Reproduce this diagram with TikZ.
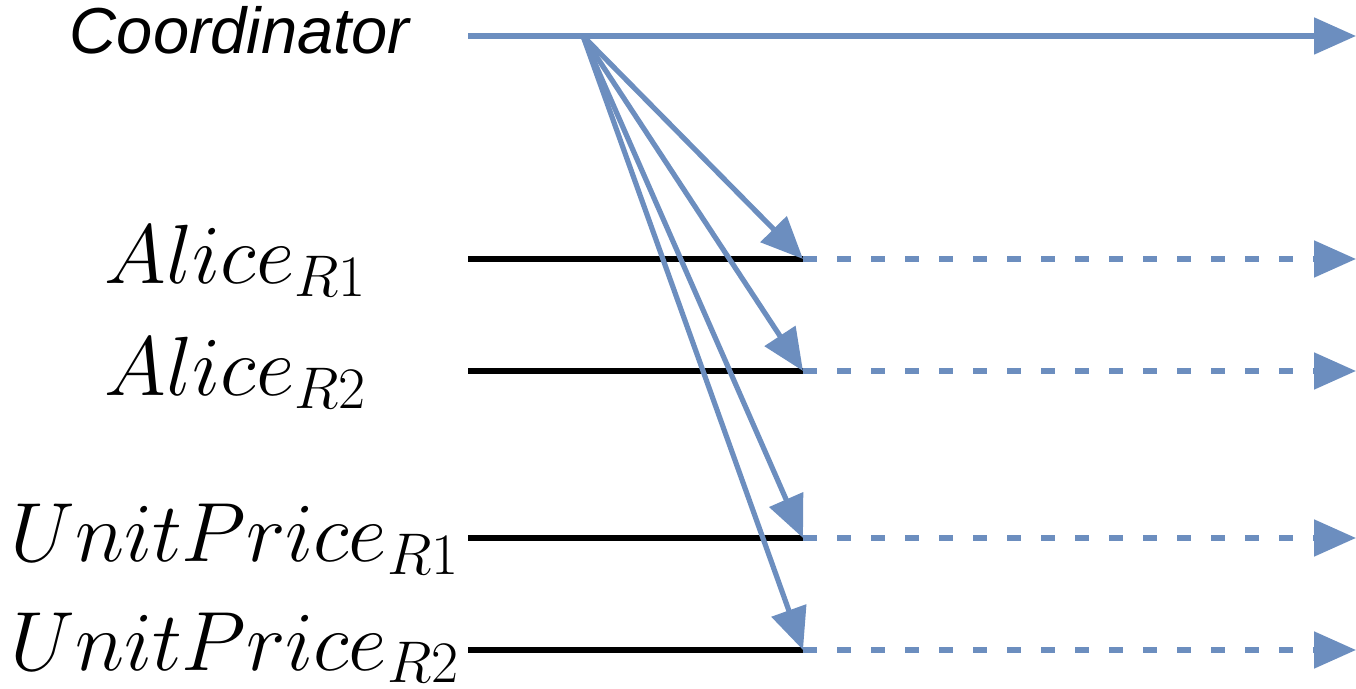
\RequirePackage{fix-cm}
\documentclass[tikz,border=0pt]{standalone}
\usepackage{fontspec}
\newfontfamily\arialish{Liberation Sans}
\usetikzlibrary{arrows.meta}
\definecolor{lblue}{HTML}{6C8EBF}
\begin{document}
\begin{tikzpicture}[x=0.5pt,y=-0.5pt,
  flow/.style={draw=lblue, line width=2.6pt, -{Triangle[length=21pt,width=18pt]}},
  dflow/.style={flow, dash pattern=on 7pt off 10pt},
  life/.style={draw=black, line width=3pt},
  mlabel/.style={anchor=base east, inner sep=0pt, font=\fontsize{42}{50}\selectfont},
  slabel/.style={anchor=base east, inner sep=0pt, font=\arialish\itshape\fontsize{32.5}{39}\selectfont}]
\useasboundingbox (0,0) rectangle (1356,689);
% labels
\node[slabel] (lc) at (410,54) {Coordinator};
\node[mlabel] (l1) at (367,284) {$Alice_{R1}$};
\node[mlabel] (l2) at (367,396) {$Alice_{R2}$};
\node[mlabel] (l3) at (460,562) {$UnitPrice_{R1}$};
\node[mlabel] (l4) at (460,670) {$UnitPrice_{R2}$};
% coordinates
\coordinate (cs) at (468,36);
\coordinate (fan) at (583,36);
\coordinate (ce) at (1356,36);
\foreach \n/\y in {1/259,2/371,3/538,4/650}{
  \coordinate (s\n) at (468,\y);
  \coordinate (m\n) at (803,\y);
  \coordinate (e\n) at (1356,\y);
}
% coordinator line
\draw[flow] (cs) -- (ce);
% black lifelines and dashed continuations
\foreach \n in {1,2,3,4}{
  \draw[life] (s\n) -- (m\n);
  \draw[dflow] (m\n) -- (e\n);
}
% fan arrows
\foreach \n in {1,2,3,4}{
  \draw[flow] (fan) -- (m\n);
}
\end{tikzpicture}
\end{document}
